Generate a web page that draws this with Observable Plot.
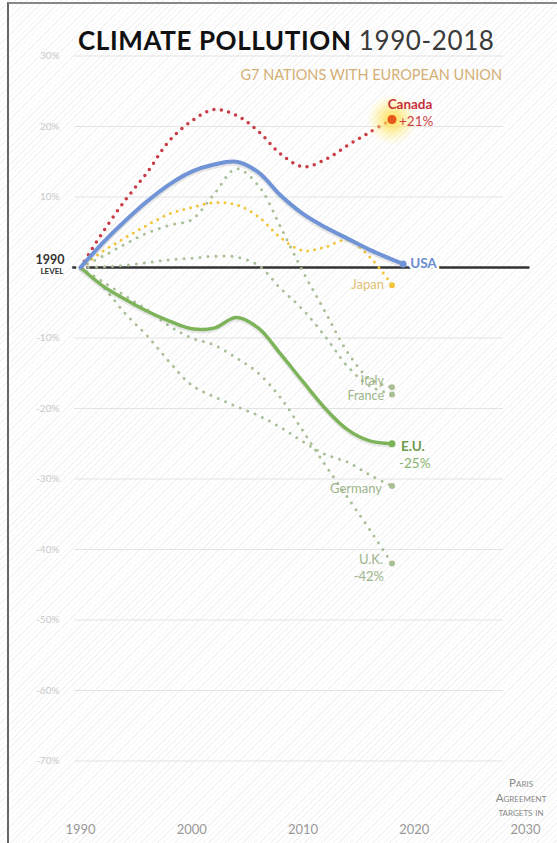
<!DOCTYPE html>
<html>
<head>
<meta charset="utf-8">
<script src="https://cdn.jsdelivr.net/npm/d3@7"></script>
<script src="https://cdn.jsdelivr.net/npm/@observablehq/plot@0.6"></script>
<style>
  html, body { margin: 0; padding: 0; background: #fff; }
  #page {
    position: relative; width: 557px; height: 843px; overflow: hidden;
    background: repeating-linear-gradient(135deg, #ffffff 0 3px, #f4f4f4 3px 4px);
  }
  #frame {
    position: absolute; left: 7px; top: 2px; right: -6px; bottom: -6px;
    border-left: 2px solid #666; border-top: 2px solid #888;
  }
  #chart { position: absolute; left: 0; top: 0; }
  #title {
    position: absolute; left: 78px; top: 23.5px; white-space: nowrap;
    font-family: Lato, sans-serif; font-size: 26px; color: #111; letter-spacing: 0.6px;
  }
  #title b { font-weight: 700; }
  #title span { color: #3a3a3a; font-weight: 400; }
  #subtitle {
    position: absolute; right: 55px; top: 65.5px; white-space: nowrap;
    font-family: Lato, sans-serif; font-size: 14.5px; color: #d4af76;
  }
</style>
</head>
<body>
<div id="page">
  <div id="frame"></div>
  <div id="chart"></div>
  <div id="title"><b>CLIMATE POLLUTION</b> <span>1990-2018</span></div>
  <div id="subtitle">G7 NATIONS WITH EUROPEAN UNION</div>
</div>
<script>
// Change in greenhouse-gas emissions relative to 1990 (%)
const years    = [1990, 1992, 1994, 1996, 1998, 2000, 2002, 2004, 2006, 2008, 2010, 2012, 2014, 2016, 2018];
const usaYears = [1990, 1992, 1994, 1996, 1998, 2000, 2002, 2004, 2006, 2008, 2010, 2012, 2014, 2016, 2019];

const canada  = [0, 5.0, 9.5, 13.5, 18.0, 20.8, 22.4, 21.6, 19.3, 16.1, 14.3, 15.3, 17.3, 19.2, 21];
const usa     = [0, 3.5, 6.6, 9.4, 11.8, 13.6, 14.6, 15.0, 13.5, 10.2, 7.6, 5.7, 4.1, 2.5, 0.5];
const japan   = [0, 2.3, 4.2, 6.0, 7.6, 8.5, 9.2, 8.9, 7.2, 4.2, 2.4, 2.9, 3.9, 1.5, -2.5];
const italy   = [0, 1.6, 3.3, 4.9, 6.0, 6.8, 10.4, 14.0, 11.6, 5.7, -0.6, -6.3, -12.0, -15.8, -17];
const france  = [0, 0.1, 0.3, 0.7, 1.1, 1.3, 1.6, 1.5, 0.3, -3.0, -6.0, -9.8, -14.0, -16.8, -18];
const eu      = [0, -2.6, -4.5, -6.2, -7.6, -8.7, -8.6, -7.1, -8.6, -12.3, -16.2, -20.0, -23.0, -24.6, -25];
const germany = [0, -2.7, -6.5, -9.7, -13.4, -16.7, -18.3, -19.7, -21.0, -22.7, -24.7, -26.5, -27.6, -29.4, -31];
const uk      = [0, -2.0, -4.0, -6.0, -8.3, -10.0, -11.0, -12.8, -15.0, -18.5, -23.2, -28.0, -32.6, -37.2, -42];

const yTicks = [30, 20, 10, -10, -20, -30, -40, -50, -60, -70];
const gridTicks = [30, 20, 10, -10, -20, -30, -40, -50, -60, -70];
const xTicks = [1990, 2000, 2010, 2020, 2030];

const rows = (name, xs, vs) => xs.map((year, i) => ({name, year, value: vs[i]}));
const canadaRows  = rows("Canada", years, canada);
const usaRows     = rows("USA", usaYears, usa);
const japanRows   = rows("Japan", years, japan);
const italyRows   = rows("Italy", years, italy);
const franceRows  = rows("France", years, france);
const euRows      = rows("E.U.", years, eu);
const germanyRows = rows("Germany", years, germany);
const ukRows      = rows("U.K.", years, uk);
const last = (r) => [r[r.length - 1]];

const RED = "#c93a45", BLUE = "#7094d6", YELLOW = "#f2c63c", SAGE = "#a9bf96", GREEN = "#7db45a";
const dotted = (stroke, w = 3, gap = 7) => ({
  x: "year", y: "value", curve: "catmull-rom", stroke, strokeWidth: w,
  strokeDasharray: `0,${gap}`, strokeLinecap: "round"
});
const pct = (d) => `${d.value > 0 ? "+" : ""}${d.value}%`;

const chart = Plot.plot({
  width: 557,
  height: 843,
  marginLeft: 80,
  marginRight: 32,
  marginTop: 55.5,
  marginBottom: 82.5,
  style: {background: "transparent", fontFamily: "Lato, sans-serif"},
  x: {domain: [1990, 2030]},
  y: {domain: [-70, 30]},
  marks: [
    // light horizontal guides
    Plot.ruleY(gridTicks, {x1: 1989.5, x2: 2028, stroke: "#e3e3e3", strokeWidth: 1}),
    Plot.axisY(yTicks, {label: null, tickSize: 0, tickPadding: 21, tickFormat: (d) => `${d}%`,
      color: "#c9c9c9", fontSize: 10}),
    Plot.axisX(xTicks, {label: null, tickSize: 0, tickPadding: 64, tickFormat: (d) => String(d),
      color: "#999", fontSize: 13}),

    // the 1990 reference level
    Plot.ruleY([0], {x1: 1989.3, x2: 1990.6, stroke: "#333", strokeWidth: 2.5, strokeDasharray: "4,3"}),
    Plot.ruleY([0], {x1: 1990.6, x2: 2030.4, stroke: "#333", strokeWidth: 2.5}),
    Plot.text([{t: "1990"}], {x: () => 1990, y: () => 0, text: "t", dx: -16, dy: -8, textAnchor: "end",
      fontSize: 12.5, fontWeight: "bold", fill: "#333"}),
    Plot.text([{t: "LEVEL"}], {x: () => 1990, y: () => 0, text: "t", dx: -17, dy: 4, textAnchor: "end",
      fontSize: 8, fontWeight: "bold", fill: "#333"}),

    // member countries, dotted
    Plot.line(ukRows, dotted(SAGE, 3, 8)),
    Plot.line(germanyRows, dotted(SAGE, 3, 8)),
    Plot.line(franceRows, dotted(SAGE, 3, 8)),
    Plot.line(italyRows, dotted(SAGE, 3, 8)),
    Plot.line(japanRows, dotted(YELLOW, 3, 7)),
    Plot.line(canadaRows, dotted(RED, 3.5, 7.5)),

    // E.U. and USA, solid
    Plot.line(euRows, {x: "year", y: "value", curve: "catmull-rom", stroke: "#888", strokeOpacity: 0.18, strokeWidth: 4, dy: 2}),
    Plot.line(euRows, {x: "year", y: "value", curve: "catmull-rom", stroke: GREEN, strokeWidth: 3.5, strokeLinecap: "round"}),
    Plot.line(usaRows, {x: "year", y: "value", curve: "catmull-rom", stroke: "#888", strokeOpacity: 0.2, strokeWidth: 4.5, dy: 2}),
    Plot.line(usaRows, {x: "year", y: "value", curve: "catmull-rom", stroke: BLUE, strokeWidth: 4, strokeLinecap: "round"}),

    // end points
    Plot.dot(last(canadaRows), {x: "year", y: "value", r: 26, fill: "url(#canadaGlow)"}),
    Plot.dot(last(canadaRows), {x: "year", y: "value", r: 4.5, fill: "#e8561f"}),
    Plot.dot(last(usaRows), {x: "year", y: "value", r: 3.5, fill: BLUE}),
    Plot.dot(last(japanRows), {x: "year", y: "value", r: 3, fill: YELLOW}),
    Plot.dot([...last(italyRows), ...last(franceRows), ...last(germanyRows), ...last(ukRows)],
      {x: "year", y: "value", r: 3, fill: SAGE}),
    Plot.dot(last(euRows), {x: "year", y: "value", r: 3.5, fill: GREEN}),

    // end labels
    Plot.text(last(canadaRows), {x: "year", y: "value", text: "name", dx: 18, dy: -15, fill: "#c8303c",
      fontWeight: "bold", fontSize: 13.5}),
    Plot.text(last(canadaRows), {x: "year", y: "value", text: pct, dx: 7, dy: 2, textAnchor: "start",
      fill: "#cf4147", fontSize: 13.5}),
    Plot.text(last(usaRows), {x: "year", y: "value", text: "name", dx: 7, dy: 0, textAnchor: "start",
      fill: "#6a8bd0", fontWeight: "bold", fontSize: 13.5, stroke: "white", strokeWidth: 5, paintOrder: "stroke"}),
    Plot.text(last(japanRows), {x: "year", y: "value", text: "name", dx: -8, dy: 0, textAnchor: "end",
      fill: "#e2c174", fontSize: 13}),
    Plot.text(last(italyRows), {x: "year", y: "value", text: "name", dx: -8, dy: -6, textAnchor: "end",
      fill: "#9db48a", fontSize: 12.5}),
    Plot.text(last(franceRows), {x: "year", y: "value", text: "name", dx: -8, dy: 2, textAnchor: "end",
      fill: "#9db48a", fontSize: 12.5}),
    Plot.text(last(germanyRows), {x: "year", y: "value", text: "name", dx: -10, dy: 3, textAnchor: "end",
      fill: "#9db48a", fontSize: 13}),
    Plot.text(last(ukRows), {x: "year", y: "value", text: "name", dx: -9, dy: -4, textAnchor: "end",
      fill: "#9db48a", fontSize: 13}),
    Plot.text(last(ukRows), {x: "year", y: "value", text: pct, dx: -8, dy: 13, textAnchor: "end",
      fill: "#9db48a", fontSize: 13}),
    Plot.text(last(euRows), {x: "year", y: "value", text: "name", dx: 9, dy: 3, textAnchor: "start",
      fill: "#6c9b4c", fontWeight: "bold", fontSize: 13.5}),
    Plot.text(last(euRows), {x: "year", y: "value", text: pct, dx: 7, dy: 20, textAnchor: "start",
      fill: "#88b56c", fontSize: 13.5}),

    // note above the 2030 tick
    Plot.text([{t: "Paris\nAgreement\ntargets in"}], {x: () => 2029.6, frameAnchor: "bottom", text: "t",
      lineAnchor: "top", lineHeight: 1.25, dy: 16, fontVariant: "small-caps", fontSize: 11.5, fill: "#888"})
  ]
});

// radial glow behind Canada's latest value
const defs = d3.select(chart).insert("defs", ":first-child");
const glow = defs.append("radialGradient").attr("id", "canadaGlow");
glow.append("stop").attr("offset", "0%").attr("stop-color", "#ffdc3c").attr("stop-opacity", 0.95);
glow.append("stop").attr("offset", "50%").attr("stop-color", "#ffe566").attr("stop-opacity", 0.5);
glow.append("stop").attr("offset", "100%").attr("stop-color", "#fff4a8").attr("stop-opacity", 0);

document.getElementById("chart").append(chart);
</script>
</body>
</html>
